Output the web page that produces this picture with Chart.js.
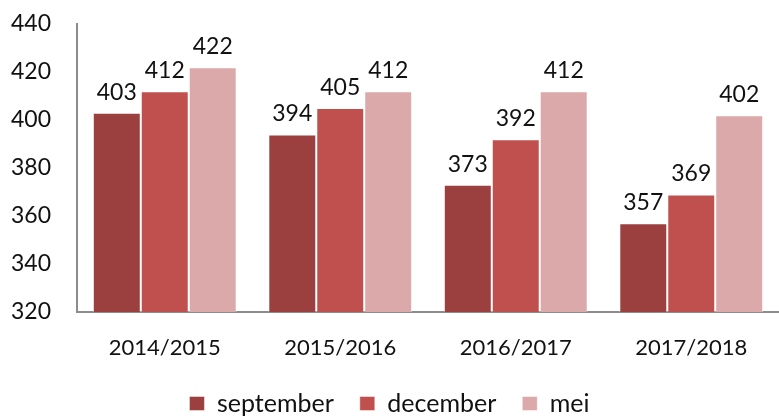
<!DOCTYPE html>
<html>
<head>
<meta charset="utf-8">
<script src="https://cdn.jsdelivr.net/npm/chart.js@4"></script>
<style>
  html, body { margin: 0; padding: 0; background: #fff; }
  #chart { display: block; }
</style>
</head>
<body>
<canvas id="chart" width="779" height="416"></canvas>
<script>
const years = ['2014/2015', '2015/2016', '2016/2017', '2017/2018'];
const september = [403, 394, 373, 357];
const december = [412, 405, 392, 369];
const mei = [422, 412, 412, 402];
const yTicks = [320, 340, 360, 380, 400, 420, 440];

const fontFamily = 'Lato, "Open Sans", sans-serif';

// waarden boven de staven tekenen
const valueLabels = {
    id: 'valueLabels',
    afterDatasetsDraw(chart) {
        const ctx = chart.ctx;
        ctx.save();
        ctx.font = '23px ' + fontFamily;
        ctx.fillStyle = '#111';
        ctx.textAlign = 'center';
        ctx.textBaseline = 'bottom';
        chart.data.datasets.forEach((ds, i) => {
            chart.getDatasetMeta(i).data.forEach((bar, j) => {
                ctx.fillText(ds.data[j], bar.x, bar.y - 9);
            });
        });
        ctx.restore();
    }
};

new Chart(document.getElementById('chart').getContext('2d'), {
    type: 'bar',
    data: {
        labels: years,
        datasets: [
            { label: 'september', data: september, backgroundColor: '#9c3f3f', borderColor: 'rgba(255,255,255,0.45)', borderWidth: 1 },
            { label: 'december', data: december, backgroundColor: '#c0504d', borderColor: 'rgba(255,255,255,0.45)', borderWidth: 1 },
            { label: 'mei', data: mei, backgroundColor: '#dba9a9', borderColor: 'rgba(255,255,255,0.45)', borderWidth: 1 }
        ]
    },
    options: {
        responsive: false,
        animation: false,
        layout: { padding: { top: 24, right: 0, left: 0, bottom: -10 } },
        datasets: { bar: { categoryPercentage: 0.82, barPercentage: 1 } },
        scales: {
            x: {
                afterFit: axis => { axis.height = 53; },
                grid: { display: false, drawTicks: false },
                border: { color: '#8c8c8c', width: 2 },
                ticks: { color: '#111', font: { family: fontFamily, size: 22 }, padding: 23 }
            },
            y: {
                min: 320,
                max: 440,
                afterBuildTicks: axis => { axis.ticks = yTicks.map(v => ({ value: v })); },
                afterFit: axis => { axis.width = 77; axis.paddingTop = 0; axis.paddingBottom = 0; },
                grid: { display: false, drawTicks: false },
                border: { color: '#8c8c8c', width: 2 },
                ticks: { color: '#111', font: { family: fontFamily, size: 23 }, padding: 26 }
            }
        },
        plugins: {
            legend: {
                position: 'bottom',
                labels: {
                    color: '#111',
                    font: { family: fontFamily, size: 25 },
                    boxWidth: 15,
                    boxHeight: 14,
                    padding: 26,
                    useBorderRadius: false
                }
            },
            tooltip: { enabled: false }
        }
    },
    plugins: [valueLabels]
});
</script>
</body>
</html>
